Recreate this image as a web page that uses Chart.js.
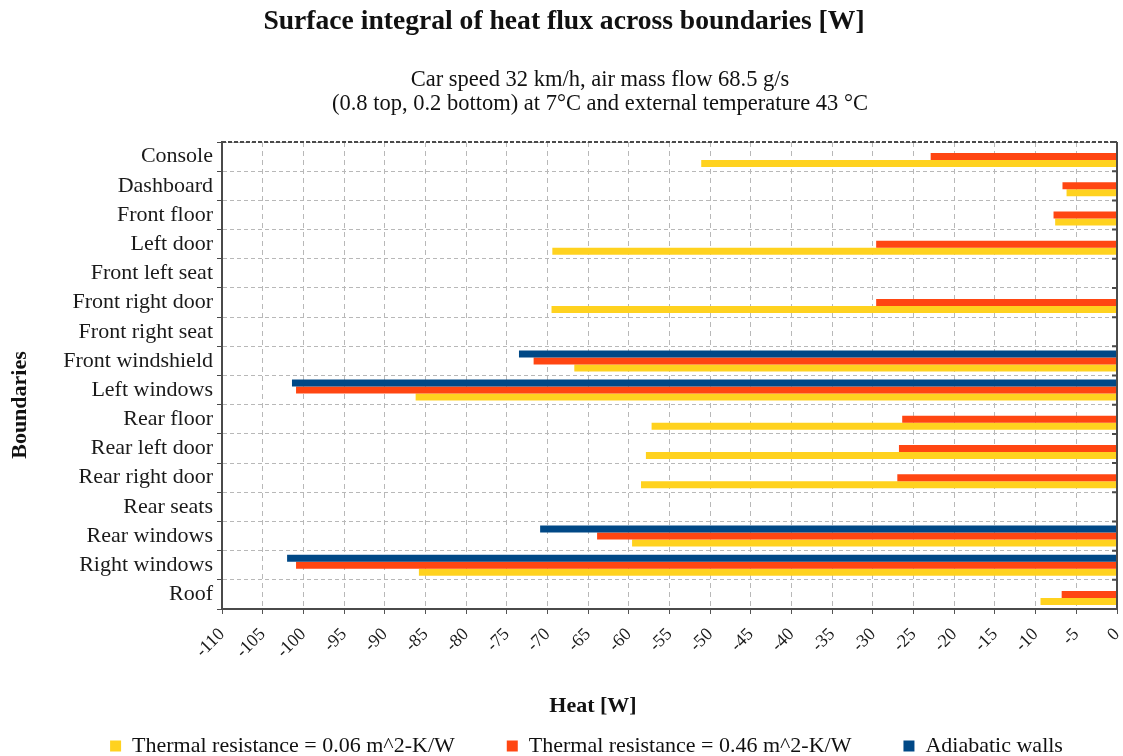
<!DOCTYPE html>
<html>
<head>
<meta charset="utf-8">
<title>Surface integral of heat flux across boundaries</title>
<script src="https://cdn.jsdelivr.net/npm/chart.js@4.4.1/dist/chart.umd.min.js"></script>
<style>
  html, body { margin: 0; padding: 0; overflow: hidden; background: #ffffff; }
  #wrap { position: relative; width: 1123px; height: 767px; }
</style>
</head>
<body>
<div id="wrap"><canvas id="chart"></canvas></div>
<script>
// Boundary surfaces of the cabin, top to bottom
const boundaries = [
  'Console', 'Dashboard', 'Front floor', 'Left door', 'Front left seat',
  'Front right door', 'Front right seat', 'Front windshield', 'Left windows',
  'Rear floor', 'Rear left door', 'Rear right door', 'Rear seats',
  'Rear windows', 'Right windows', 'Roof'
];

// Heat flux through each boundary [W]
const resistance006 = [-51.1, -6.2, -7.6, -69.4, 0, -69.5, 0, -66.7, -86.2, -57.2, -57.9, -58.5, 0, -59.6, -85.8, -9.4];
const resistance046 = [-22.9, -6.7, -7.8, -29.6, 0, -29.6, 0, -71.7, -100.9, -26.4, -26.8, -27.0, 0, -63.9, -100.9, -6.8];
const adiabaticWalls = [0, 0, 0, 0, 0, 0, 0, -73.5, -101.4, 0, 0, 0, 0, -70.9, -102.0, 0];

const seriesNames = [
  'Thermal resistance = 0.06 m^2-K/W',
  'Thermal resistance = 0.46 m^2-K/W',
  'Adiabatic walls'
];

// Heat axis: -110 ... 0 in steps of 5
const heatMin = -110;
const heatMax = 0;
const heatStep = 5;

const titleText = 'Surface integral of heat flux across boundaries [W]';
const subtitleLines = [
  'Car speed 32 km/h, air mass flow 68.5 g/s',
  '(0.8 top, 0.2 bottom) at 7\u00B0C and external temperature 43 \u00B0C'
];
const xTitle = 'Heat [W]';
const yTitle = 'Boundaries';

const SERIF = '"Liberation Serif", "Times New Roman", serif';
const YELLOW = '#ffd21f';
const RED = '#ff4612';
const BLUE = '#004886';

// Titles and axis captions
const captions = {
  id: 'captions',
  afterDraw(chart) {
    const ctx = chart.ctx;
    ctx.save();
    ctx.fillStyle = '#111111';
    ctx.textAlign = 'center';
    ctx.textBaseline = 'middle';
    ctx.font = 'bold 27.6px ' + SERIF;
    ctx.fillText(titleText, 564, 22);
    ctx.font = '22.5px ' + SERIF;
    subtitleLines.forEach((line, i) => ctx.fillText(line, 600, 80 + i * 24));
    ctx.font = 'bold 22px ' + SERIF;
    ctx.fillText(xTitle, 593, 706);
    ctx.translate(20, 405);
    ctx.rotate(-Math.PI / 2);
    ctx.fillText(yTitle, 0, 0);
    ctx.restore();
  }
};

// Dark frame around the plot area, with short ticks on the right edge
const frame = {
  id: 'frame',
  afterDatasetsDraw(chart) {
    const ctx = chart.ctx;
    const a = chart.chartArea;
    const y = chart.scales.y;
    ctx.save();
    ctx.strokeStyle = '#4a4a4a';
    ctx.lineWidth = 2;
    ctx.setLineDash([4, 2]);
    ctx.beginPath();
    ctx.moveTo(a.left, a.top);
    ctx.lineTo(a.right, a.top);
    ctx.moveTo(a.left, a.bottom);
    ctx.lineTo(a.right, a.bottom);
    ctx.stroke();
    ctx.setLineDash([]);
    ctx.beginPath();
    ctx.moveTo(a.right, a.top);
    ctx.lineTo(a.right, a.bottom);
    ctx.stroke();
    ctx.beginPath();
    for (let i = 0; i <= boundaries.length; i++) {
      const py = y.getPixelForValue(i - 0.5);
      ctx.moveTo(a.right - 5, py);
      ctx.lineTo(a.right, py);
    }
    ctx.stroke();
    ctx.restore();
  }
};

new Chart(document.getElementById('chart'), {
  type: 'bar',
  data: {
    labels: boundaries,
    datasets: [
      { label: seriesNames[2], data: adiabaticWalls, backgroundColor: BLUE },
      { label: seriesNames[1], data: resistance046, backgroundColor: RED },
      { label: seriesNames[0], data: resistance006, backgroundColor: YELLOW }
    ]
  },
  options: {
    indexAxis: 'y',
    responsive: true,
    maintainAspectRatio: false,
    animation: false,
    datasets: {
      bar: { categoryPercentage: 0.72, barPercentage: 1.0, borderWidth: 0 }
    },
    layout: { padding: { top: 142, left: 56, right: 6, bottom: 0 } },
    scales: {
      x: {
        type: 'linear',
        min: heatMin,
        max: heatMax,
        afterFit(scale) {
          scale.height = 74;
          scale.paddingLeft = 0;
          scale.paddingRight = 0;
        },
        ticks: {
          stepSize: heatStep,
          autoSkip: false,
          minRotation: 45,
          maxRotation: 45,
          padding: 10,
          color: '#1a1a1a',
          font: { family: SERIF, size: 18 }
        },
        grid: {
          color: '#b8b8b8',
          lineWidth: 1,
          tickLength: 5,
          tickColor: '#555555'
        },
        border: { display: true, color: '#4a4a4a', width: 2, dash: [5, 4] }
      },
      y: {
        afterFit(scale) { scale.width = 166; },
        ticks: {
          autoSkip: false,
          padding: 4,
          color: '#1a1a1a',
          font: { family: SERIF, size: 22 }
        },
        grid: {
          color: '#b8b8b8',
          lineWidth: 1,
          tickLength: 5,
          tickColor: '#4a4a4a'
        },
        border: { display: true, color: '#4a4a4a', width: 2, dash: [4, 3] }
      }
    },
    plugins: {
      title: { display: false },
      tooltip: { enabled: false },
      legend: {
        display: true,
        position: 'bottom',
        reverse: true,
        labels: {
          boxWidth: 11,
          boxHeight: 11,
          padding: 52,
          color: '#111111',
          font: { family: SERIF, size: 22 }
        }
      }
    }
  },
  plugins: [captions, frame]
});
</script>
</body>
</html>
